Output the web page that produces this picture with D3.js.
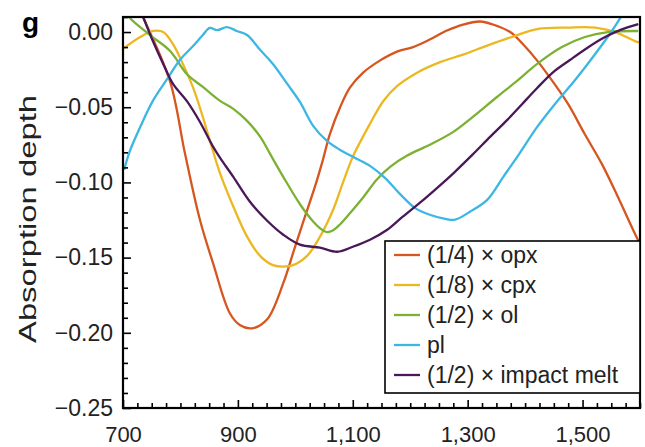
<!DOCTYPE html>
<html>
<head>
<meta charset="utf-8">
<script src="https://cdn.jsdelivr.net/npm/d3@7"></script>
<style>
  html, body { margin: 0; padding: 0; background: #fff; }
  svg { display: block; font-family: "Liberation Sans", Arial, Helvetica, sans-serif; }
</style>
</head>
<body>
<svg id="chart" width="645" height="447"></svg>
<script>
// Absorption band depth spectra, wavelength (nm) vs. depth
const opx = [
  [700, 0.040], [735, 0.010], [782, -0.033], [808, -0.081], [834, -0.125], [857, -0.154],
  [886, -0.187], [904, -0.195], [925, -0.197], [951, -0.191], [979, -0.167],
  [996, -0.147], [1013, -0.127], [1034, -0.103], [1048, -0.085], [1060, -0.068],
  [1078, -0.050], [1095, -0.037], [1118, -0.027], [1147, -0.019], [1177, -0.013],
  [1205, -0.010], [1234, -0.005], [1264, 0.001], [1292, 0.005], [1322, 0.007],
  [1344, 0.005], [1374, 0.000], [1396, -0.008], [1421, -0.019], [1452, -0.035],
  [1475, -0.048], [1504, -0.068], [1534, -0.088], [1562, -0.110], [1591, -0.134],
  [1600, -0.141]
];
const cpx = [
  [702, -0.0106], [730, -0.0033], [753, 0.0007], [770, 0.0000], [787, -0.008],
  [804, -0.021], [822, -0.037], [837, -0.054], [851, -0.072], [869, -0.094],
  [892, -0.116], [916, -0.136], [939, -0.149], [961, -0.155], [979, -0.156],
  [996, -0.155], [1020, -0.149], [1043, -0.136], [1066, -0.118], [1083, -0.100],
  [1100, -0.083], [1130, -0.061], [1153, -0.046], [1177, -0.036], [1212, -0.027],
  [1252, -0.020], [1292, -0.015], [1334, -0.009], [1379, -0.003], [1421, 0.002],
  [1475, 0.003], [1522, 0.003], [1557, 0.000], [1591, -0.006], [1600, -0.007]
];
const ol = [
  [700, 0.016], [712, 0.0093], [747, -0.002], [782, -0.0126], [811, -0.0279],
  [839, -0.0365], [869, -0.0458], [892, -0.0511], [916, -0.0591], [939, -0.0697],
  [956, -0.081], [979, -0.0963], [1009, -0.115], [1031, -0.126], [1043, -0.1305],
  [1055, -0.1330], [1066, -0.1318], [1078, -0.1278], [1095, -0.1205], [1118, -0.110],
  [1142, -0.098], [1165, -0.0896], [1194, -0.0823], [1234, -0.075], [1275, -0.0664],
  [1309, -0.0564], [1351, -0.0432], [1386, -0.0325], [1421, -0.0212], [1464, -0.010],
  [1504, -0.0033], [1544, 0.000], [1597, 0.0007]
];
const pl = [
  [702, -0.0916], [712, -0.079], [730, -0.0631], [752, -0.0458], [777, -0.0312],
  [799, -0.0186], [822, -0.0093], [839, -0.002], [851, 0.0027], [864, 0.0013],
  [881, 0.0033], [898, 0.0007], [916, -0.002], [939, -0.012], [961, -0.0212],
  [986, -0.0345], [1008, -0.0465], [1031, -0.0624], [1055, -0.0724], [1078, -0.0784],
  [1104, -0.0837], [1130, -0.089], [1156, -0.097], [1182, -0.1076], [1208, -0.1169],
  [1234, -0.1215], [1261, -0.1242], [1278, -0.1248], [1304, -0.1195], [1334, -0.1116],
  [1362, -0.0963], [1391, -0.0803], [1421, -0.0631], [1452, -0.0478], [1487, -0.0319],
  [1522, -0.0146], [1551, 0.0007], [1570, 0.012]
];
const impactMelt = [
  [720, 0.024], [735, 0.010], [752, -0.006], [770, -0.0212], [787, -0.0345],
  [811, -0.0458], [834, -0.0598], [857, -0.0764], [869, -0.0837], [892, -0.0963],
  [921, -0.1129], [951, -0.1255], [979, -0.1348], [1008, -0.1414], [1043, -0.1434],
  [1073, -0.1461], [1100, -0.1428], [1130, -0.1381], [1160, -0.1315], [1187, -0.1228],
  [1217, -0.1135], [1247, -0.1036], [1276, -0.0936], [1308, -0.0817], [1339, -0.0697],
  [1369, -0.0584], [1395, -0.0478], [1421, -0.0372], [1449, -0.0266], [1478, -0.0186],
  [1508, -0.0106], [1536, -0.004], [1565, 0.0013], [1597, 0.0053]
];

const seriesNames = ["(1/4) \u00d7 opx", "(1/8) \u00d7 cpx", "(1/2) \u00d7 ol", "pl", "(1/2) \u00d7 impact melt"];
const seriesData = [opx, cpx, ol, pl, impactMelt];
const xTicks = [700, 900, 1100, 1300, 1500];
const yTicks = [0, -0.05, -0.10, -0.15, -0.20, -0.25];
const xDomain = [700, 1600];
const yDomain = [-0.25, 0.01];

const colors = ["#d6561f", "#ecb821", "#7cb133", "#3cb7e4", "#4a1858"];

const svg = d3.select("#chart");
const plotLeft = 123, plotRight = 640, plotTop = 17, plotBottom = 408;

const x = d3.scaleLinear().domain(xDomain).range([plotLeft, plotRight]);
const y = d3.scaleLinear().domain(yDomain).range([plotBottom, plotTop]);

svg.append("defs").append("clipPath").attr("id", "plot-clip")
  .append("rect").attr("x", plotLeft).attr("y", plotTop)
  .attr("width", plotRight - plotLeft).attr("height", plotBottom - plotTop);

// spectra
const line = d3.line().x(d => x(d[0])).y(d => y(d[1])).curve(d3.curveCatmullRom.alpha(0.5));
const lines = svg.append("g").attr("clip-path", "url(#plot-clip)");
seriesData.forEach((s, i) => {
  lines.append("path").datum(s)
    .attr("d", line)
    .attr("fill", "none")
    .attr("stroke", colors[i])
    .attr("stroke-width", 2.3)
    .attr("stroke-linejoin", "round");
});

// axes with inward ticks
const fontSize = 23;
const minorX = d3.range(700, 1601, 25).filter(v => !xTicks.includes(v));
const minorY = d3.range(-25, 2, 1).map(v => v / 100).filter(v => !yTicks.some(t => Math.abs(t - v) < 1e-9));

const xAxisMinor = svg.append("g").attr("transform", `translate(0,${plotBottom})`)
  .call(d3.axisBottom(x).tickValues(minorX).tickSize(-5).tickFormat(""));
const xAxis = svg.append("g").attr("transform", `translate(0,${plotBottom})`)
  .call(d3.axisBottom(x).tickValues(xTicks).tickSize(-8).tickPadding(18).tickFormat(d3.format(",")));
const yAxisMinor = svg.append("g").attr("transform", `translate(${plotLeft},0)`)
  .call(d3.axisLeft(y).tickValues(minorY).tickSize(-5).tickFormat(""));
const yAxis = svg.append("g").attr("transform", `translate(${plotLeft},0)`)
  .call(d3.axisLeft(y).tickValues(yTicks).tickSize(-8).tickPadding(10).tickFormat(d3.format(".2f")));

[xAxisMinor, xAxis, yAxisMinor, yAxis].forEach(g => {
  g.select(".domain").remove();
  g.selectAll(".tick line").attr("stroke", "#000").attr("stroke-width", 1.6);
  g.selectAll(".tick text").attr("fill", "#222").attr("font-size", fontSize)
    .attr("font-family", "'Liberation Sans', Arial, sans-serif");
});
xAxis.selectAll(".tick text").attr("font-size", 22);

// frame
svg.append("rect").attr("x", plotLeft).attr("y", plotTop)
  .attr("width", plotRight - plotLeft).attr("height", plotBottom - plotTop)
  .attr("fill", "none").attr("stroke", "#000").attr("stroke-width", 2.2);

// legend
const legend = svg.append("g");
legend.append("rect").attr("x", 385).attr("y", 241).attr("width", plotRight - 385).attr("height", 152)
  .attr("fill", "#fff").attr("stroke", "#000").attr("stroke-width", 1.6);
seriesNames.forEach((name, i) => {
  const cy = 255 + i * 30;
  legend.append("line").attr("x1", 394).attr("x2", 420).attr("y1", cy).attr("y2", cy)
    .attr("stroke", colors[i]).attr("stroke-width", 2.3);
  legend.append("text").attr("x", 427).attr("y", cy).attr("dy", "0.35em")
    .attr("font-size", fontSize).attr("fill", "#222").text(name);
});

// axis title and panel letter
svg.append("text")
  .attr("transform", "translate(36,219) rotate(-90)")
  .attr("text-anchor", "middle")
  .attr("font-size", 24)
  .attr("fill", "#222")
  .attr("textLength", 248)
  .attr("lengthAdjust", "spacingAndGlyphs")
  .text("Absorption depth");

svg.append("text").attr("x", 22).attr("y", 32)
  .attr("font-size", 28).attr("font-weight", "bold").attr("fill", "#000").text("g");
</script>
</body>
</html>
